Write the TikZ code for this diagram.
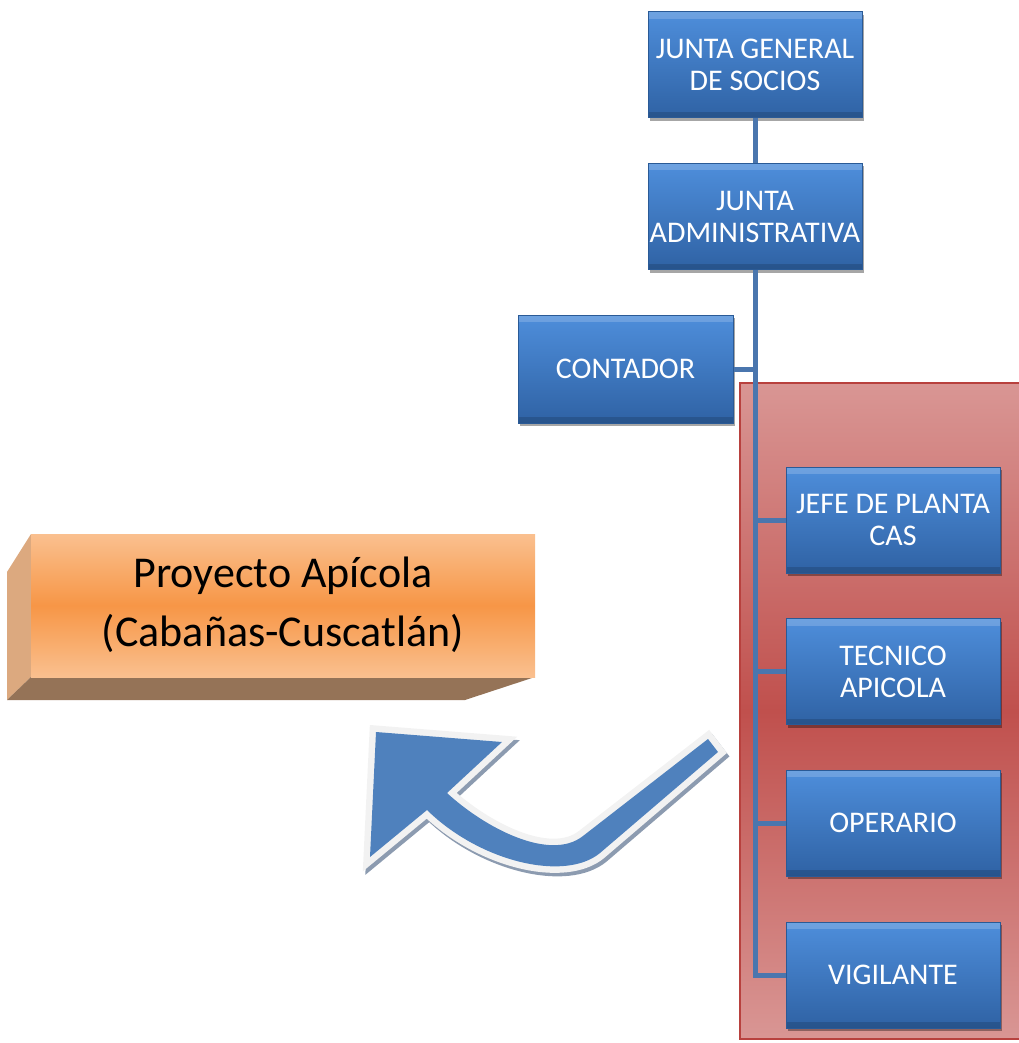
\documentclass[tikz,border=0pt]{standalone}
\usepackage{fontspec}
\setmainfont{Carlito}
\usetikzlibrary{shadows}
\definecolor{boxtop}{HTML}{4E8EDB}
\definecolor{boxbot}{HTML}{2F62A4}
\definecolor{boxedge}{HTML}{2A5A96}
\definecolor{conn}{HTML}{4A76AE}
\definecolor{redtop}{HTML}{D99694}
\definecolor{redmid}{HTML}{C0504D}
\definecolor{rededge}{HTML}{B8413E}
\definecolor{orlight}{HTML}{FAC08F}
\definecolor{ormid}{HTML}{F79646}
\definecolor{orside}{HTML}{DCA97F}
\definecolor{orbottom}{HTML}{957357}
\definecolor{arrowblue}{HTML}{4F81BD}
\definecolor{arrowrim}{HTML}{F2F2F2}
\definecolor{arrowshadow}{HTML}{8C9BB0}
\def\arrowpath{(376,732) -- (502,742) -- (447,793) .. controls (485,828) and (550,862) .. (583,836) -- (708,739) -- (718,752) -- (600,853) .. controls (565,882) and (480,862) .. (427,810) -- (370,857) -- cycle}
\begin{document}
\begin{tikzpicture}[x=1pt,y=-1pt,
  orgbox/.style={rectangle, minimum width=214pt, minimum height=106pt, inner sep=0pt,
    top color=boxtop, bottom color=boxbot, draw=boxedge, line width=1pt,
    text=white, align=center, font=\fontsize{30}{32}\selectfont,
    drop shadow={shadow xshift=1.5pt, shadow yshift=-3pt, opacity=0.35, fill=black},
    path picture={\fill[white, opacity=0.18] (path picture bounding box.north west) rectangle ([yshift=-7pt]path picture bounding box.north east);
                  \fill[black, opacity=0.15] (path picture bounding box.south west) rectangle ([yshift=6pt]path picture bounding box.south east);}},
  link/.style={draw=conn, line width=5pt},
  bigtext/.style={font=\fontsize{44}{59}\selectfont, align=center, text=black}]
\useasboundingbox (0,0) rectangle (1018,1043);
% orange 3D block
\fill[orside] (31,534) -- (31,677) -- (7,700) -- (7,572) -- cycle;
\fill[orbottom] (31,677) -- (535,677) -- (465,700) -- (7,700) -- cycle;
\shade[top color=orlight, bottom color=orlight, middle color=ormid] (31,534) rectangle (535,677);
\node[bigtext] (pa) at (283,604.5) {Proyecto Apícola\\(Cabañas-Cuscatlán)};
% curved arrow
\begin{scope}[shift={(2.5,3.5)}]
  \draw[arrowshadow, fill=arrowshadow, line width=13pt, line join=miter] \arrowpath;
\end{scope}
\draw[arrowrim, fill=arrowrim, line width=13pt, line join=miter] \arrowpath;
\fill[arrowblue] \arrowpath;
% red panel
\draw[draw=rededge, line width=2.5pt, top color=redtop, bottom color=redtop, middle color=redmid] (740,383) rectangle (1030,1039);
% boxes
\node[orgbox] (jg) at (755,65) {JUNTA GENERAL\\DE SOCIOS};
\node[orgbox] (ja) at (755,216.5) {JUNTA\\ADMINISTRATIVA};
\node[orgbox, minimum width=215pt, minimum height=108pt] (ct) at (625.5,369) {CONTADOR};
\node[orgbox] (jp) at (893,520) {JEFE DE PLANTA\\CAS};
\node[orgbox] (ta) at (893,671.5) {TECNICO\\APICOLA};
\node[orgbox] (op) at (893,823) {OPERARIO};
\node[orgbox] (vg) at (893,975) {VIGILANTE};
% connectors
\draw[link] (jg.south) -- (ja.north);
\draw[link] (ja.south) |- (ct.east);
\draw[link] (ja.south) |- (jp.west);
\draw[link] (ja.south) |- (ta.west);
\draw[link] (ja.south) |- (op.west);
\draw[link] (ja.south) |- (vg.west);
\end{tikzpicture}
\end{document}
